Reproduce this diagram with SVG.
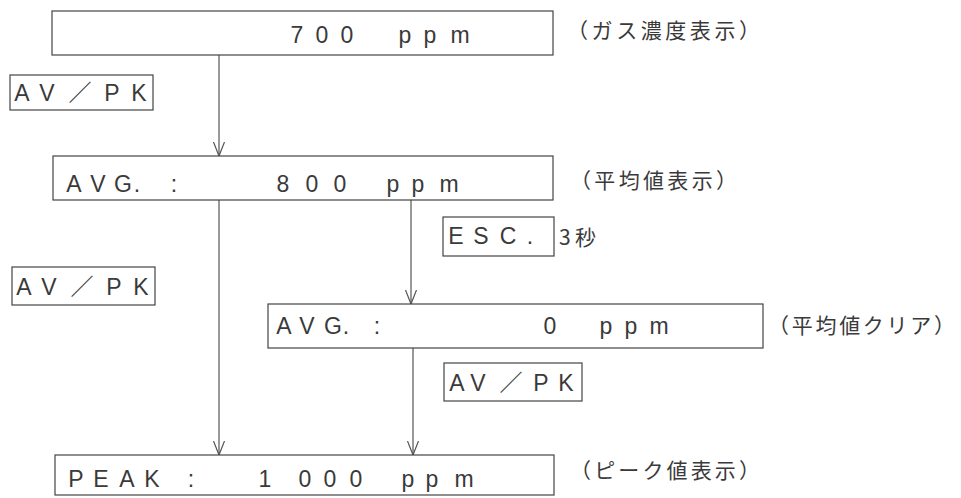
<svg xmlns="http://www.w3.org/2000/svg" width="961" height="498" viewBox="0 0 961 498">
<style>
.box{fill:none;stroke:#444;stroke-width:1.2}
.t{font-family:"Liberation Sans","Noto Sans CJK JP",Arial,sans-serif;font-size:23px;fill:#3a3a3a;text-anchor:middle}
.j{font-family:"Noto Sans CJK JP","Noto Sans CJK SC",sans-serif;font-size:21px;fill:#3a3a3a}
.c{stroke:#555;stroke-width:1.2;fill:none}
</style>
<defs>
<marker id="v" viewBox="0 0 14 14" refX="14" refY="7" markerWidth="14" markerHeight="14" markerUnits="userSpaceOnUse" orient="auto">
<path d="M0,1.5 L14,7 L0,12.5" fill="none" stroke="#555" stroke-width="1.2"/>
</marker>
</defs>
<rect width="961" height="498" fill="#fff"/>
<g id="connectors">
<line class="c" x1="219" y1="55" x2="219" y2="156" marker-end="url(#v)"/>
<line class="c" x1="219" y1="200" x2="219" y2="455" marker-end="url(#v)"/>
<line class="c" x1="411" y1="200" x2="411" y2="304" marker-end="url(#v)"/>
<line class="c" x1="413" y1="348" x2="413" y2="455" marker-end="url(#v)"/>
</g>
<g id="node-gas">
<rect class="box" x="52" y="11" width="501" height="44"/>
<text class="t" x="297 322 347" y="43">700</text>
<text class="t" x="405 430 460" y="43">ppm</text>
<text class="j" x="567" y="38" textLength="193" lengthAdjust="spacing">（ガス濃度表示）</text>
</g>
<g id="key-avpk-1">
<rect class="box" x="10" y="75" width="143" height="35"/>
<text class="t" x="22 47 80 112 139" y="101">AV／PK</text>
</g>
<g id="node-avg">
<rect class="box" x="53" y="156" width="500" height="44"/>
<text class="t" x="74 98 123 137 174" y="192">AVG.:</text>
<text class="t" x="283 312 340" y="192">800</text>
<text class="t" x="393 418 449" y="192">ppm</text>
<text class="j" x="570" y="188" textLength="167" lengthAdjust="spacing">（平均値表示）</text>
</g>
<g id="key-esc">
<rect class="box" x="443" y="217" width="111" height="39"/>
<text class="t" x="456 481 508 530" y="244">ESC.</text>
<text class="j" x="559" y="245" textLength="37" lengthAdjust="spacing">3秒</text>
</g>
<g id="key-avpk-2">
<rect class="box" x="12" y="267" width="143" height="38"/>
<text class="t" x="24 49 82 114 141" y="295">AV／PK</text>
</g>
<g id="node-clear">
<rect class="box" x="268" y="304" width="495" height="44"/>
<text class="t" x="284 307 333 346 377" y="334">AVG.:</text>
<text class="t" x="550" y="334">0</text>
<text class="t" x="606 631 659" y="334">ppm</text>
<text class="j" x="768" y="333" textLength="187" lengthAdjust="spacing">（平均値クリア）</text>
</g>
<g id="key-avpk-3">
<rect class="box" x="444" y="363" width="138" height="38"/>
<text class="t" x="457 478 511 541 566" y="391">AV／PK</text>
</g>
<g id="node-peak">
<rect class="box" x="55" y="455" width="499" height="40"/>
<text class="t" x="76 101 127 152 191" y="487">PEAK:</text>
<text class="t" x="265 305 330 356" y="487">1000</text>
<text class="t" x="408 432 464" y="487">ppm</text>
<text class="j" x="570" y="478" textLength="190" lengthAdjust="spacing">（ピーク値表示）</text>
</g>
</svg>
